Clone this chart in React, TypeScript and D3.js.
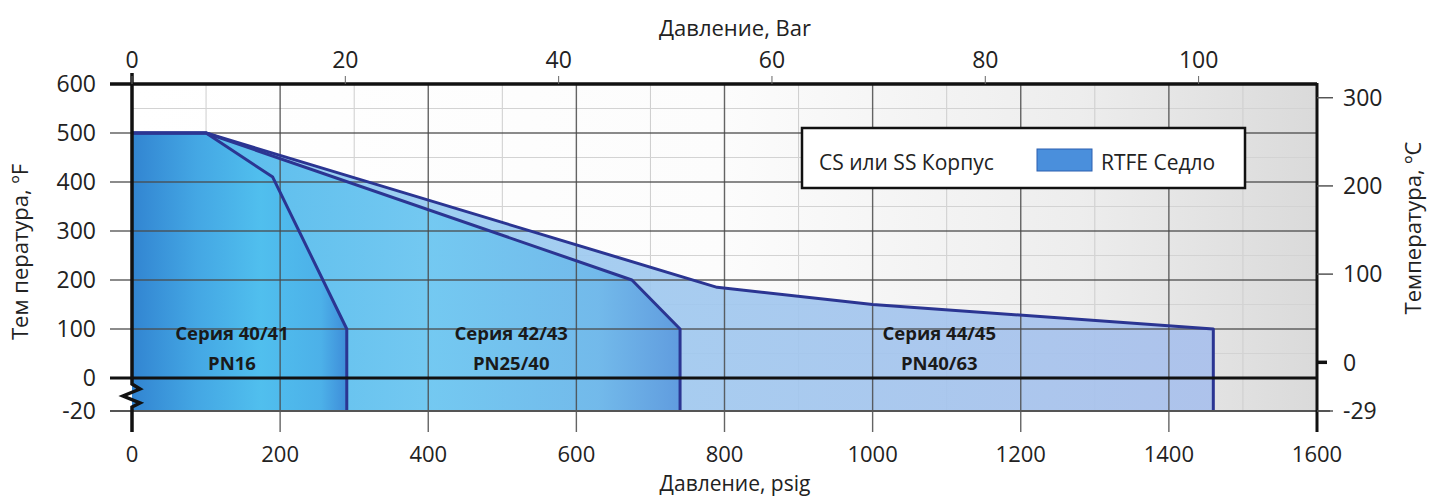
import React from "react";
import * as d3 from "d3";

// pressure (psig) / temperature (ºF) outlines for each series
const pressure4041 = [0, 100, 190, 290, 290];
const temp4041 = [500, 500, 410, 100, -20];
const pressure4243 = [0, 100, 675, 740, 740];
const temp4243 = [500, 500, 200, 100, -20];
const pressure4445 = [0, 100, 790, 1000, 1460, 1460];
const temp4445 = [500, 500, 185, 150, 100, -20];

const seriesNames = ["Серия 40/41", "Серия 42/43", "Серия 44/45"];
const seriesPN = ["PN16", "PN25/40", "PN40/63"];
const labelPsig = [135, 512, 1090]; // psig where the label is centred

const psigTicks = [0, 200, 400, 600, 800, 1000, 1200, 1400, 1600];
const psigMinor = [100, 300, 500, 700, 900, 1100, 1300, 1500];
const barTicks = [0, 20, 40, 60, 80, 100];
const tempFTicks = [600, 500, 400, 300, 200, 100, 0, -20];
const tempFMinor = [550, 450, 350, 250, 150, 50];
const tempCTicks = [300, 200, 100, 0, -29];

const W = 1430;
const H = 497;
const FONT = "'Open Sans', 'DejaVu Sans', sans-serif";

export default function App() {
  const x = d3.scaleLinear().domain([0, 1600]).range([132, 1317]);
  const xBar = d3.scaleLinear().domain([0, 111.1]).range([132, 1317]);
  // broken axis: -20..0 is stretched
  const y = d3.scaleLinear().domain([-20, 0, 600]).range([411, 378, 84]);
  const cToF = (c: number) => (c === -29 ? -20 : (c * 9) / 5 + 32);

  const area = (ps: number[], ts: number[]) => {
    const pts: [number, number][] = [[0, -20], ...ps.map((p, i) => [p, ts[i]] as [number, number])];
    return d3.line<[number, number]>().x((d) => x(d[0])).y((d) => y(d[1]))(pts) + "Z";
  };
  const outline = (ps: number[], ts: number[]) =>
    d3.line<[number, number]>().x((d) => x(d[0])).y((d) => y(d[1]))(
      ps.map((p, i) => [p, ts[i]] as [number, number])
    ) || "";

  const series = [
    { p: pressure4445, t: temp4445, fill: "url(#g4445)" },
    { p: pressure4243, t: temp4243, fill: "url(#g4243)" },
    { p: pressure4041, t: temp4041, fill: "url(#g4041)" },
  ];

  const x0 = x(0);
  const x1 = x(1600);

  return (
    <svg
      width={W}
      height={H}
      style={{ position: "absolute", left: 0, top: 0, display: "block", background: "#fff" }}
      fontFamily={FONT}
    >
      <defs>
        <linearGradient id="bg" x1="0" x2="1" y1="0" y2="0">
          <stop offset="0" stopColor="#ffffff" />
          <stop offset="0.5" stopColor="#fcfcfc" />
          <stop offset="0.8" stopColor="#ededed" />
          <stop offset="1" stopColor="#dadada" />
        </linearGradient>
        <linearGradient id="g4445" x1="0" x2="1" y1="0" y2="0">
          <stop offset="0" stopColor="#86cdf2" />
          <stop offset="0.45" stopColor="#9fc9ef" />
          <stop offset="1" stopColor="#a9c0ec" />
        </linearGradient>
        <linearGradient id="g4243" x1="0" x2="1" y1="0" y2="0">
          <stop offset="0" stopColor="#4cb6ea" />
          <stop offset="0.55" stopColor="#70c8f1" />
          <stop offset="0.85" stopColor="#6eb8ea" />
          <stop offset="1" stopColor="#5a98dd" />
        </linearGradient>
        <linearGradient id="g4041" x1="0" x2="1" y1="0" y2="0">
          <stop offset="0" stopColor="#2f80cf" />
          <stop offset="0.3" stopColor="#42a5e3" />
          <stop offset="0.6" stopColor="#4fbfee" />
          <stop offset="0.88" stopColor="#4aafe8" />
          <stop offset="1" stopColor="#3a88d7" />
        </linearGradient>
      </defs>

      {/* plot background */}
      <rect x={x0} y={y(600)} width={x1 - x0} height={y(-20) - y(600)} fill="url(#bg)" />

      {/* minor grid */}
      {psigMinor.map((v) => (
        <line key={"vm" + v} x1={x(v)} x2={x(v)} y1={y(600)} y2={y(-20)} stroke="#cdcdcd" strokeWidth={1} />
      ))}
      {tempFMinor.map((v) => (
        <line key={"hm" + v} x1={x0} x2={x1} y1={y(v)} y2={y(v)} stroke="#d3d3d3" strokeWidth={1} />
      ))}

      {/* series fills */}
      {series.map((s, i) => (
        <path key={"f" + i} d={area(s.p, s.t)} fill={s.fill} opacity={0.92} />
      ))}

      {/* major grid */}
      {psigTicks.slice(1, -1).map((v) => (
        <line key={"vM" + v} x1={x(v)} x2={x(v)} y1={y(600)} y2={432} stroke="#4a4a4a" strokeWidth={1.4} opacity={0.85} />
      ))}
      {tempFTicks.filter((v) => v > 0 && v < 600).map((v) => (
        <line key={"hM" + v} x1={110} x2={x1} y1={y(v)} y2={y(v)} stroke="#4a4a4a" strokeWidth={1.4} opacity={0.85} />
      ))}

      {/* series outlines */}
      {series.map((s, i) => (
        <path key={"o" + i} d={outline(s.p, s.t)} fill="none" stroke="#2b3592" strokeWidth={3} strokeLinejoin="round" />
      ))}

      {/* zero and -20 lines, top line */}
      <line x1={110} x2={x1} y1={y(0)} y2={y(0)} stroke="#111" strokeWidth={3} />
      <line x1={110} x2={x1 + 13} y1={y(-20)} y2={y(-20)} stroke="#555" strokeWidth={2} />
      <line x1={110} x2={x1} y1={y(600)} y2={y(600)} stroke="#111" strokeWidth={3.5} />

      {/* left axis with break */}
      <path
        d={`M${x0},73 L${x0},${y(0) + 6} L${x0 + 8},${y(0) + 11} L${x0 - 9},${y(0) + 18} L${x0 + 8},${y(0) + 25} L${x0},${y(0) + 29} L${x0},432`}
        fill="none"
        stroke="#111"
        strokeWidth={3.5}
        strokeLinejoin="miter"
      />
      {/* right axis */}
      <line x1={x1} x2={x1} y1={y(600) - 1} y2={432} stroke="#111" strokeWidth={3} />

      {/* left tick labels */}
      {tempFTicks.map((v) => (
        <text key={"lt" + v} x={96} y={y(v)} dy="0.36em" textAnchor="end" fontSize={23} fill="#222">
          {v}
        </text>
      ))}

      {/* bottom tick labels */}
      {psigTicks.map((v) => (
        <text key={"bt" + v} x={x(v)} y={462} textAnchor="middle" fontSize={22} fill="#222">
          {v}
        </text>
      ))}

      {/* top bar axis */}
      {barTicks.map((v) => (
        <g key={"tb" + v}>
          <line x1={xBar(v)} x2={xBar(v)} y1={y(600) - 8} y2={y(600)} stroke="#666" strokeWidth={1} />
          <text x={xBar(v)} y={68} textAnchor="middle" fontSize={23} fill="#222">
            {v}
          </text>
        </g>
      ))}

      {/* right °C axis */}
      {tempCTicks.map((v) => (
        <g key={"rc" + v}>
          <line
            x1={x1}
            x2={v === 0 ? x1 + 10 : x1 + 16}
            y1={y(cToF(v))}
            y2={y(cToF(v))}
            stroke={v === 0 ? "#111" : "#555"}
            strokeWidth={v === 0 ? 3.5 : 1.5}
          />
          <text x={x1 + 26} y={y(cToF(v))} dy="0.36em" textAnchor="start" fontSize={23} fill="#222">
            {v}
          </text>
        </g>
      ))}

      {/* axis titles */}
      <text x={735} y={36} textAnchor="middle" fontSize={22} fill="#222">
        Давление, Bar
      </text>
      <text x={735} y={491} textAnchor="middle" fontSize={21} fill="#222">
        Давление, psig
      </text>
      <text transform={`translate(28,252) rotate(-90)`} textAnchor="middle" fontSize={22} fill="#222">
        Тем пература, ºF
      </text>
      <text transform={`translate(1421,228) rotate(-90)`} textAnchor="middle" fontSize={22} fill="#222">
        Температура, ºC
      </text>

      {/* series labels */}
      {seriesNames.map((n, i) => (
        <g key={"sl" + i}>
          <text x={x(labelPsig[i])} y={340} textAnchor="middle" fontSize={18.5} fontWeight="bold" fill="#1a1a1a">
            {n}
          </text>
          <text x={x(labelPsig[i])} y={370} textAnchor="middle" fontSize={18.5} fontWeight="bold" fill="#1a1a1a">
            {seriesPN[i]}
          </text>
        </g>
      ))}

      {/* legend */}
      <rect x={802} y={128} width={443} height={60} fill="#fff" stroke="#111" strokeWidth={2.5} />
      <text x={819} y={170} fontSize={21} fill="#222">
        CS или SS Корпус
      </text>
      <rect x={1037} y={149} width={55} height={22} fill="#4a8fdc" stroke="#2b5fb0" strokeWidth={1} />
      <text x={1101} y={170} fontSize={21} fill="#222">
        RTFE Седло
      </text>
    </svg>
  );
}
